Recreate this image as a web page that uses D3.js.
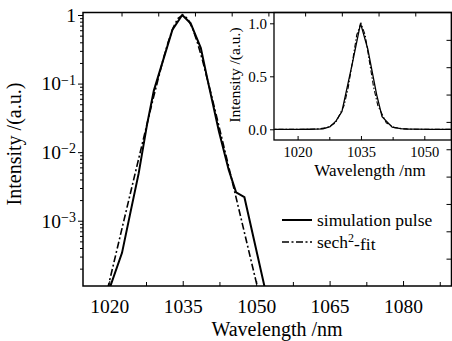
<!DOCTYPE html>
<html>
<head>
<meta charset="utf-8">
<script src="https://cdn.jsdelivr.net/npm/d3@7"></script>
<style>
  html, body { margin: 0; padding: 0; background: white; }
  svg { display: block; }
</style>
</head>
<body>
<script>
/* DATA */

// simulation pulse, wavelength in nm and normalised intensity
var simWavelength = [1014, 1016, 1018, 1020.2, 1022.6, 1024.3, 1026.0, 1027.7, 1029.1, 1030.5, 1032.9, 1034.9,
    1036.6, 1038.7, 1040.0, 1042.4, 1044.4, 1045.9, 1047.6, 1051.7, 1054, 1056.5];
var simIntensity = [3.2e-6, 1.3e-5, 4.0e-5, 1.1e-4, 3.4e-4, 1.3e-3, 4.9e-3, 2.5e-2, 7.9e-2, 0.168, 0.61, 1.0,
    0.76, 0.33, 0.12, 0.020, 5.5e-3, 2.6e-3, 2.2e-3, 1.1e-4, 2.0e-5, 3.2e-6];

// sech^2 fit
var fitWavelength = [1013, 1015, 1017, 1019, 1021, 1023, 1025, 1027, 1029, 1031, 1032, 1033, 1034, 1035,
    1036, 1037, 1038, 1039, 1041, 1043, 1045, 1047, 1049, 1051, 1053, 1055, 1057];
var fitIntensity = [1.03e-6, 4.09e-6, 1.63e-5, 6.45e-5, 2.56e-4, 1.02e-3, 4.04e-3, 1.59e-2, 6.18e-2, 0.224, 0.397, 0.641, 0.890, 1.0,
    0.890, 0.641, 0.397, 0.224, 6.18e-2, 1.59e-2, 4.04e-3, 1.02e-3, 2.56e-4, 6.45e-5, 1.63e-5, 4.09e-6, 1.03e-6];

// tick values
var xMajorTicks = [1020, 1035, 1050, 1065, 1080];
var xMinorTicks = [1027.5, 1042.5, 1057.5, 1072.5, 1087.5];
var xTopTicks = [1022.5, 1030, 1037.5, 1045, 1052.5, 1060, 1067.5, 1075, 1082.5];
var yMajorTicks = [1, 1e-1, 1e-2, 1e-3];
var rightTicks = [1, 2, 3, 4, 5, 6, 7, 8, 9];
var insetXTicks = [1020, 1035, 1050];
var insetXMinorTicks = [1027.5, 1042.5];
var insetYTicks = [0, 0.5, 1.0];

var legendLabels = ['simulation pulse', 'sech'];


/* SETUP */
var width = 452;
var height = 341;
var serif = '"Liberation Serif", "DejaVu Serif", serif';

var plotLeft = 83, plotRight = 451.5, plotTop = 12.5, plotBottom = 286;
var insetLeft = 274, insetRight = 451.5, insetTop = 12.5, insetBottom = 140;

const x = d3.scaleLinear().domain([1014.63, 1089.9]).range([plotLeft, plotRight]);
const y = d3.scaleLog().domain([1.117e-4, 1.088]).range([plotBottom, plotTop]);
const yRight = d3.scaleLinear().domain([0, 10]).range([plotBottom, plotTop]);

const xi = d3.scaleLinear().domain([1014.41, 1056.44]).range([insetLeft, insetRight]);
const yi = d3.scaleLinear().domain([-0.101, 1.102]).range([insetBottom, insetTop]);

// minor log ticks 2..9 per decade, kept inside the domain
const yMinorTicks = [];
[1e-4, 1e-3, 1e-2, 1e-1].forEach(d => {
    for (let k = 2; k <= 9; k++) {
        const v = d * k;
        if (v >= y.domain()[0] && v <= y.domain()[1]) yMinorTicks.push(v);
    }
});

const simData = simWavelength.map((w, i) => [w, simIntensity[i]]);
const fitData = fitWavelength.map((w, i) => [w, fitIntensity[i]]);

const mainLine = d3.line().x(d => x(d[0])).y(d => y(d[1]));
const insetLine = d3.line().x(d => xi(d[0])).y(d => yi(d[1]));

const dashDot = '7,2.5,2,2.5';


/* SVG */
const svg = d3.select('body').append('svg')
    .attr('width', width)
    .attr('height', height)
    .style('font-family', serif);

svg.append('rect')
    .attr('width', width)
    .attr('height', height)
    .attr('fill', 'white');

const defs = svg.append('defs');
defs.append('clipPath').attr('id', 'mainClip')
    .append('rect')
    .attr('x', plotLeft).attr('y', plotTop)
    .attr('width', plotRight - plotLeft).attr('height', plotBottom - plotTop);
defs.append('clipPath').attr('id', 'insetClip')
    .append('rect')
    .attr('x', insetLeft).attr('y', insetTop)
    .attr('width', insetRight - insetLeft).attr('height', insetBottom - insetTop);

// main curves
const mainCurves = svg.append('g').attr('clip-path', 'url(#mainClip)');
mainCurves.append('path')
    .attr('d', mainLine(fitData))
    .attr('fill', 'none')
    .attr('stroke', 'black')
    .attr('stroke-width', 1.6)
    .attr('stroke-dasharray', dashDot);
mainCurves.append('path')
    .attr('d', mainLine(simData))
    .attr('fill', 'none')
    .attr('stroke', 'black')
    .attr('stroke-width', 2)
    .attr('stroke-linejoin', 'miter');

// helper to strip domain line and style ticks
const styleAxis = g => {
    g.select('.domain').remove();
    g.selectAll('.tick line').attr('stroke', 'black').attr('stroke-width', 1);
};

// left axis (log)
svg.append('g')
    .attr('transform', `translate(${plotLeft},0)`)
    .call(d3.axisLeft(y).tickValues(yMinorTicks).tickSize(3).tickFormat(''))
    .call(styleAxis);
svg.append('g')
    .attr('transform', `translate(${plotLeft},0)`)
    .call(d3.axisLeft(y).tickValues(yMajorTicks).tickSize(5).tickFormat(''))
    .call(styleAxis);

const yLabels = svg.append('g')
    .attr('font-size', '19.5px')
    .attr('text-anchor', 'end');
yMajorTicks.forEach(v => {
    const e = Math.round(Math.log10(v));
    const t = yLabels.append('text')
        .attr('x', plotLeft - 7)
        .attr('y', y(v))
        .attr('dy', '0.35em');
    if (e === 0) {
        t.text('1');
    } else {
        t.append('tspan').text('10');
        t.append('tspan')
            .attr('dy', '-0.42em')
            .attr('font-size', '14px')
            .text('\u2212' + Math.abs(e));
    }
});

// bottom axis
svg.append('g')
    .attr('transform', `translate(0,${plotBottom})`)
    .call(d3.axisBottom(x).tickValues(xMinorTicks).tickSize(-4).tickFormat(''))
    .call(styleAxis);
svg.append('g')
    .attr('transform', `translate(0,${plotBottom})`)
    .call(d3.axisBottom(x).tickValues(xMajorTicks).tickSize(-5).tickPadding(13).tickFormat(d3.format('d')))
    .call(styleAxis)
    .call(g => g.selectAll('.tick text')
        .attr('font-family', serif)
        .attr('font-size', '19.5px')
        .attr('fill', 'black'));

// axis titles
svg.append('text')
    .attr('x', 277)
    .attr('y', 336)
    .attr('text-anchor', 'middle')
    .attr('font-size', '20px')
    .text('Wavelength /nm');

svg.append('text')
    .attr('transform', 'translate(21,144) rotate(-90)')
    .attr('text-anchor', 'middle')
    .attr('font-size', '20px')
    .text('Intensity /(a.u.)');

// legend
const legend = svg.append('g').attr('font-size', '17.5px');
legend.append('line')
    .attr('x1', 282).attr('x2', 312).attr('y1', 220).attr('y2', 220)
    .attr('stroke', 'black').attr('stroke-width', 2);
legend.append('text')
    .attr('x', 317).attr('y', 220).attr('dy', '0.32em')
    .text(legendLabels[0]);
legend.append('line')
    .attr('x1', 282).attr('x2', 312).attr('y1', 242).attr('y2', 242)
    .attr('stroke', 'black').attr('stroke-width', 1.6)
    .attr('stroke-dasharray', dashDot);
const fitLabel = legend.append('text')
    .attr('x', 317).attr('y', 242).attr('dy', '0.32em');
fitLabel.append('tspan').text(legendLabels[1]);
fitLabel.append('tspan').attr('dy', '-0.45em').attr('font-size', '12px').text('2');
fitLabel.append('tspan').attr('dy', '0.45em').text('-fit');


/* INSET */
const inset = svg.append('g');
inset.append('rect')
    .attr('x', insetLeft).attr('y', insetTop)
    .attr('width', insetRight - insetLeft).attr('height', insetBottom - insetTop)
    .attr('fill', 'white')
    .attr('stroke', 'black')
    .attr('stroke-width', 1.3);

const insetCurves = inset.append('g').attr('clip-path', 'url(#insetClip)');
insetCurves.append('path')
    .attr('d', insetLine(fitData))
    .attr('fill', 'none')
    .attr('stroke', 'black')
    .attr('stroke-width', 1.1)
    .attr('stroke-dasharray', '5,2,1.5,2');
insetCurves.append('path')
    .attr('d', insetLine(simData))
    .attr('fill', 'none')
    .attr('stroke', 'black')
    .attr('stroke-width', 1.3);

inset.append('g')
    .attr('transform', `translate(0,${insetBottom})`)
    .call(d3.axisBottom(xi).tickValues(insetXMinorTicks).tickSize(-3).tickFormat(''))
    .call(styleAxis);
inset.append('g')
    .attr('transform', `translate(0,${insetBottom})`)
    .call(d3.axisBottom(xi).tickValues(insetXTicks).tickSize(-4).tickPadding(7).tickFormat(d3.format('d')))
    .call(styleAxis)
    .call(g => g.selectAll('.tick text')
        .attr('font-family', serif)
        .attr('font-size', '14.5px')
        .attr('fill', 'black'));

inset.append('g')
    .attr('transform', `translate(${insetLeft},0)`)
    .call(d3.axisLeft(yi).tickValues(insetYTicks).tickSize(4).tickPadding(3).tickFormat(d3.format('.1f')))
    .call(styleAxis)
    .call(g => g.selectAll('.tick text')
        .attr('font-family', serif)
        .attr('font-size', '15px')
        .attr('fill', 'black'));

inset.append('text')
    .attr('x', 370)
    .attr('y', 176)
    .attr('text-anchor', 'middle')
    .attr('font-size', '17px')
    .text('Wavelength /nm');

inset.append('text')
    .attr('transform', 'translate(240,75) rotate(-90)')
    .attr('text-anchor', 'middle')
    .attr('font-size', '15.5px')
    .text('Intensity /(a.u.)');


/* MAIN FRAME + TOP / RIGHT TICKS (drawn last, over the inset) */
svg.append('g')
    .call(d3.axisTop(x).tickValues(xTopTicks).tickSize(-4).tickFormat(''))
    .attr('transform', `translate(0,${plotTop})`)
    .call(styleAxis);
svg.append('g')
    .attr('transform', `translate(${plotRight},0)`)
    .call(d3.axisRight(yRight).tickValues(rightTicks).tickSize(-5).tickFormat(''))
    .call(styleAxis);

svg.append('rect')
    .attr('x', plotLeft).attr('y', plotTop)
    .attr('width', plotRight - plotLeft).attr('height', plotBottom - plotTop)
    .attr('fill', 'none')
    .attr('stroke', 'black')
    .attr('stroke-width', 1.5);
</script>
</body>
</html>
